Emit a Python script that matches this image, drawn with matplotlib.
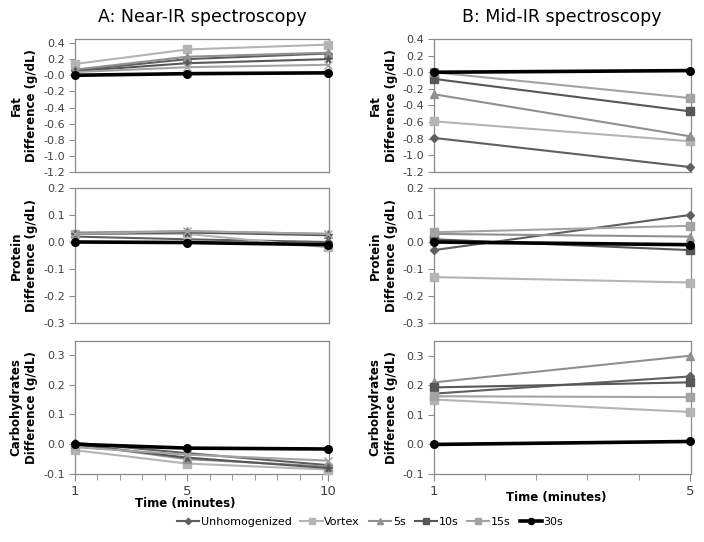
import numpy as np
import matplotlib
matplotlib.use("Agg")
import matplotlib.pyplot as plt

# series names, shared by both panels
series = ["Unhomogenized", "Vortex", "5s", "10s", "15s", "30s"]

# A: Near-IR (time 1, 5, 10 min)
time_nir = [1, 5, 10]
nir_fat = {
    "Unhomogenized": [0.06, 0.20, 0.27],
    "Vortex": [0.14, 0.32, 0.38],
    "5s": [0.07, 0.23, 0.28],
    "10s": [0.05, 0.15, 0.20],
    "15s": [0.04, 0.10, 0.13],
    "30s": [0.00, 0.02, 0.03],
}
nir_protein = {
    "Unhomogenized": [0.02, 0.01, 0.00],
    "Vortex": [0.03, 0.03, -0.02],
    "5s": [0.035, 0.04, 0.03],
    "10s": [0.03, 0.035, 0.025],
    "15s": [0.03, 0.04, 0.03],
    "30s": [0.00, -0.002, -0.01],
}
nir_carbs = {
    "Unhomogenized": [0.005, -0.03, -0.07],
    "Vortex": [-0.02, -0.065, -0.085],
    "5s": [0.00, -0.05, -0.075],
    "10s": [0.00, -0.045, -0.08],
    "15s": [-0.01, -0.035, -0.055],
    "30s": [0.00, -0.013, -0.016],
}

# B: Mid-IR (time 1, 5 min)
time_mir = [1, 5]
mir_fat = {
    "Unhomogenized": [-0.79, -1.14],
    "Vortex": [-0.59, -0.83],
    "5s": [-0.265, -0.77],
    "10s": [-0.08, -0.47],
    "15s": [0.00, -0.31],
    "30s": [0.00, 0.02],
}
mir_protein = {
    "Unhomogenized": [-0.03, 0.10],
    "Vortex": [-0.13, -0.15],
    "5s": [0.03, 0.02],
    "10s": [0.01, -0.03],
    "15s": [0.036, 0.06],
    "30s": [0.00, -0.01],
}
mir_carbs = {
    "Unhomogenized": [0.172, 0.23],
    "Vortex": [0.152, 0.11],
    "5s": [0.21, 0.30],
    "10s": [0.193, 0.21],
    "15s": [0.163, 0.16],
    "30s": [0.00, 0.01],
}

colors = {"Unhomogenized": "#5f5f5f", "Vortex": "#b4b4b4", "5s": "#909090",
          "10s": "#575757", "15s": "#a3a3a3", "30s": "#000000"}
markers_mir = {"Unhomogenized": "D", "Vortex": "s", "5s": "^",
               "10s": "s", "15s": "s", "30s": "o"}
markers_nir = {"Unhomogenized": "D", "Vortex": "s", "5s": "^",
               "10s": "*", "15s": "x", "30s": "o"}

fig = plt.figure(figsize=(7.04, 5.42), dpi=100)
W, H = 704, 542

def box(left, top, right, bottom):
    return [left / W, 1 - bottom / H, (right - left) / W, (bottom - top) / H]

rows = [(39, 172), (188, 323), (341, 474)]
cols = [(75, 329), (434, 691)]
ylabels = ["Fat\nDifference (g/dL)", "Protein\nDifference (g/dL)",
           "Carbohydrates\nDifference (g/dL)"]
ylims_nir = [(-1.2, 0.45), (-0.3, 0.2), (-0.1, 0.347)]
ylims_mir = [(-1.2, 0.4), (-0.3, 0.2), (-0.1, 0.35)]
yticks = [np.arange(-1.2, 0.41, 0.2), np.arange(-0.3, 0.21, 0.1), np.arange(-0.1, 0.31, 0.1)]

panels = [
    (time_nir, [nir_fat, nir_protein, nir_carbs], markers_nir, ylims_nir, (1, 10.05)),
    (time_mir, [mir_fat, mir_protein, mir_carbs], markers_mir, ylims_mir, (1, 5.02)),
]

handles = None
for c, (tx, datasets, mk, ylims, xl) in enumerate(panels):
    for r, data in enumerate(datasets):
        ax = fig.add_axes(box(cols[c][0], rows[r][0], cols[c][1], rows[r][1]))
        hs = []
        for s in series:
            is30 = s == "30s"
            ms = 4 if mk[s] == "D" else 5.5
            h, = ax.plot(tx, data[s], color=colors[s], marker=mk[s],
                         lw=2.6 if is30 else 1.5, ms=ms, zorder=5 if is30 else 3,
                         clip_on=False, label=s)
            hs.append(h)
        if c == 1 and r == 0:
            handles = hs
        ax.set_xlim(*xl)
        ax.set_ylim(*ylims[r])
        ax.set_yticks(yticks[r])
        ax.set_yticklabels(["%.1f" % v for v in yticks[r]])
        for sp in ax.spines.values():
            sp.set_color("#8a8a8a")
            sp.set_linewidth(0.9)
        ax.tick_params(axis="y", direction="out", length=4, color="#8a8a8a",
                       labelsize=8, labelcolor="#404040", pad=3)
        ax.set_ylabel(ylabels[r], fontsize=8.5, fontweight="bold", linespacing=1.3)
        ax.yaxis.set_label_coords(-51 / (cols[c][1] - cols[c][0]), 0.5)
        ax.yaxis.label.set_va("center")
        if r == 2:
            ax.set_xticks(tx)
            ax.set_xticklabels([str(t) for t in tx])
            ax.set_xticks(np.arange(1, xl[1], 0.8), minor=True)
            ax.tick_params(axis="x", which="both", direction="out", color="#8a8a8a",
                           labelsize=9.5, labelcolor="#404040", pad=3)
            ax.tick_params(axis="x", which="major", length=5)
            ax.tick_params(axis="x", which="minor", length=4)
            ax.set_xlabel("Time (minutes)", fontsize=8.5, fontweight="bold")
            if c == 0:
                ax.xaxis.set_label_coords(0.433, -0.225)
            else:
                ax.xaxis.set_label_coords(0.475, -0.18)
            ax.xaxis.label.set_va("center")
        else:
            ax.set_xticks([])

fig.text(202 / W, 1 - 17 / H, "A: Near-IR spectroscopy", ha="center", va="center", fontsize=12.5)
fig.text(562 / W, 1 - 17 / H, "B: Mid-IR spectroscopy", ha="center", va="center", fontsize=12.5)

fig.legend(handles, series, loc="center", bbox_to_anchor=(370 / W, 1 - 522 / H), ncol=6,
           frameon=False, fontsize=8, handlelength=2.0, handletextpad=0.15,
           columnspacing=0.8, markerscale=0.8)

fig.savefig("out.png", dpi=100)
